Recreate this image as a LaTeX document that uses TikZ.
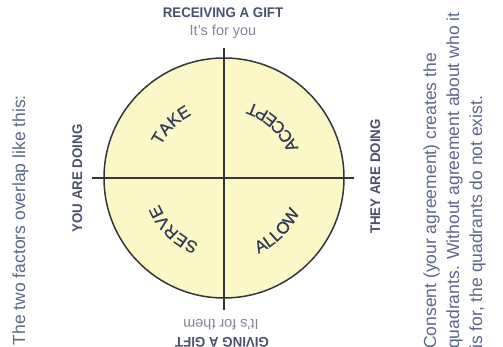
\documentclass[tikz,border=0pt]{standalone}
\usepackage{fontspec}
\setmainfont{Liberation Sans}
\newfontfamily\condfont[FakeStretch=0.95]{Liberation Sans}
\newfontfamily\quadfont[FakeBold=0.6]{Liberation Sans}
\definecolor{gtyellow}{RGB}{252,247,199}
\definecolor{gtink}{RGB}{52,54,58}
\definecolor{gthead}{RGB}{72,80,108}
\definecolor{gtsub}{RGB}{128,134,150}
\definecolor{gtnote}{RGB}{92,102,138}
\definecolor{gtlabel}{RGB}{50,58,88}
\usetikzlibrary{calc,decorations.text}

\begin{document}
\begin{tikzpicture}[
  x=1pt,y=1pt,
  head/.style={font=\condfont\bfseries\fontsize{14}{16}\selectfont,text=gthead,inner sep=0pt},
  subhead/.style={font=\fontsize{14.5}{17}\selectfont,text=gtsub,inner sep=0pt},
  note/.style={font=\fontsize{17.5}{21}\selectfont,text=gtnote,inner sep=0pt,rotate=90},
  quad/.style={decorate,decoration={text along path,text align=center,
               text={|\quadfont\fontsize{17}{20}\selectfont\color{gtlabel}|#1}}},
  axis/.style={draw=gtink,line width=1.5pt},
]
  \useasboundingbox (0,0) rectangle (503,347);
  \clip (0,0) rectangle (503,347);

  % Wheel
  \coordinate (c) at (224,169);
  \node[circle,draw=gtink,fill=gtyellow,line width=1.5pt,minimum size=240pt,inner sep=0pt]
    (wheel) at (c) {};

  % Axes
  \coordinate (rcv) at (224,299);
  \coordinate (giv) at (224,37);
  \coordinate (you) at (92,169);
  \coordinate (they) at (354,169);
  \path[axis] (rcv) -- (giv);
  \path[axis] (you) -- (they);

  % Quadrants
  \path[quad=TAKE] ($(c)+(165:71)$) arc[start angle=165,end angle=105,radius=71];
  \path[quad=ACCEPT] ($(c)+(10:80)$) arc[start angle=10,end angle=83,radius=80];
  \path[quad=SERVE] ($(c)+(255:70)$) arc[start angle=255,end angle=196,radius=70];
  \path[quad=ALLOW] ($(c)+(280:83)$) arc[start angle=280,end angle=350,radius=83];

  % Axis labels
  \node[head,anchor=base] (rcvhead) at (223,329) {RECEIVING A GIFT};
  \node[subhead,anchor=base] (rcvsub) at (223,311) {It's for you};
  \node[subhead,anchor=base,rotate=180] (givsub) at (221,27) {It's for them};
  \node[head,anchor=base,rotate=180] (givhead) at (222,9) {GIVING A GIFT};
  \node[head,anchor=base,rotate=90] (youhead) at (82,168.5) {YOU ARE DOING};
  \node[head,anchor=base,rotate=90] (theyhead) at (380,170.5) {THEY ARE DOING};

  % Side notes
  \node[note,anchor=base east] (intro) at (25,252) {The two factors overlap like this:};
  \node[note,anchor=base west] (cons1) at (436,-2) {Consent (your agreement) creates the};
  \node[note,anchor=base west] (cons2) at (459,-2) {quadrants. Without agreement about who it};
  \node[note,anchor=base west] (cons3) at (482,-2) {is for, the quadrants do not exist.};
\end{tikzpicture}
\end{document}
